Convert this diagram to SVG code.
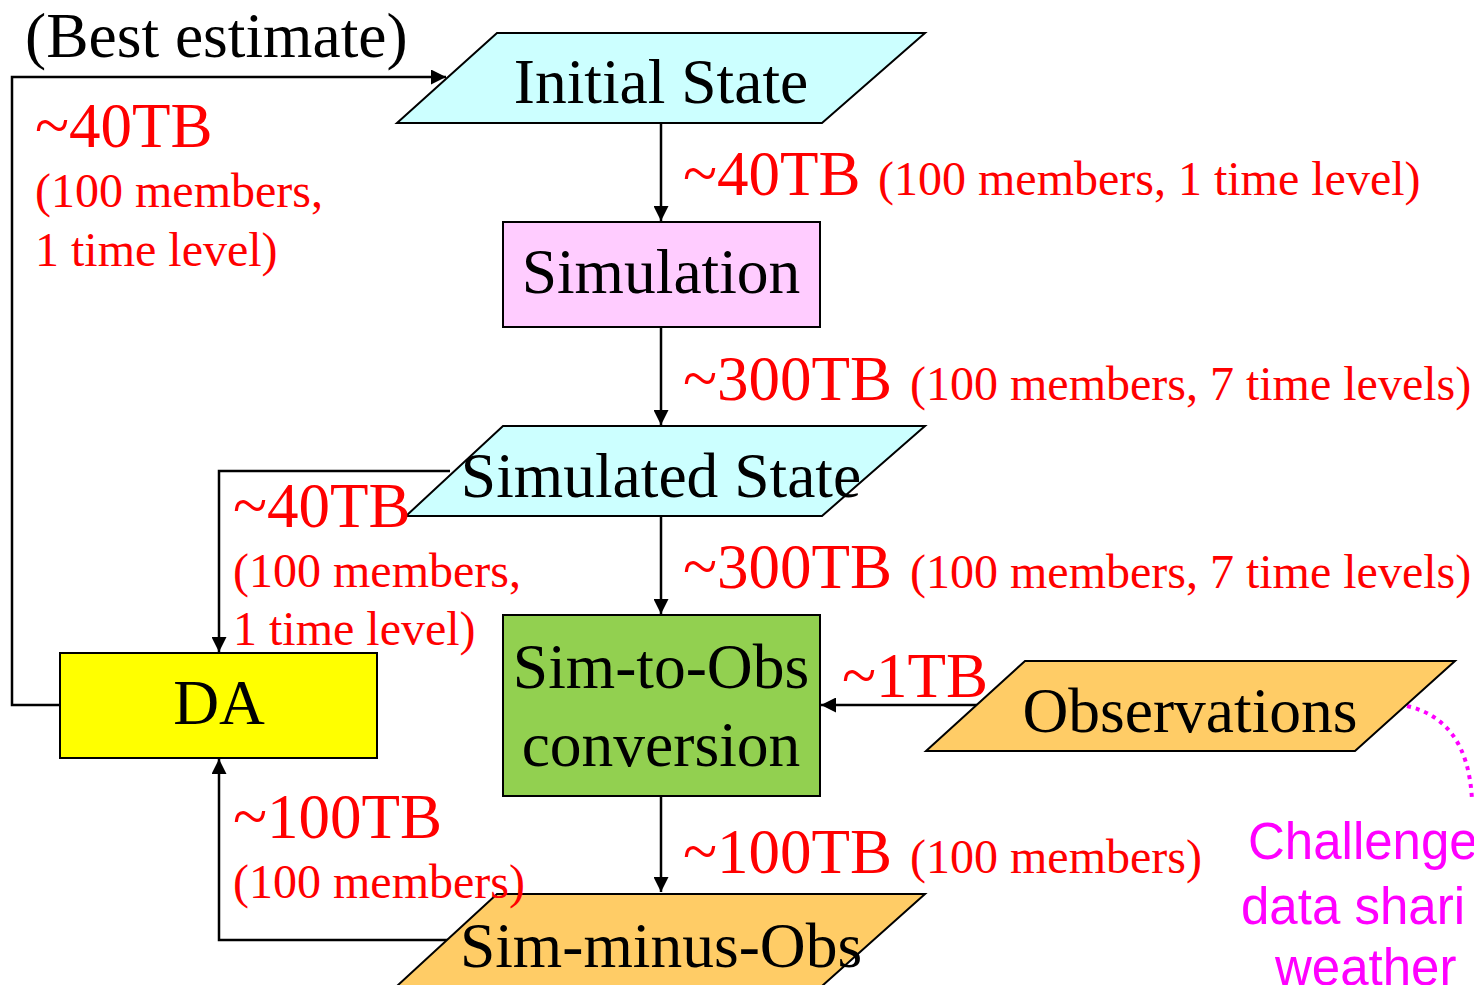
<svg xmlns="http://www.w3.org/2000/svg" width="1474" height="985" viewBox="0 0 1474 985">
<style>
.shape{stroke:#000;stroke-width:2}
.lbl{font-family:"Liberation Serif","Times New Roman",serif;font-size:63.5px;fill:#000}
.big{font-family:"Liberation Serif","Times New Roman",serif;font-size:63px;fill:#ff0000}
.sm{font-family:"Liberation Serif","Times New Roman",serif;font-size:48px;fill:#ff0000}
.mag{font-family:"Liberation Sans",Arial,sans-serif;font-size:51px;fill:#ff00ff}
.con{fill:none;stroke:#000;stroke-width:2.5}
</style>
<defs>
<marker id="ah" viewBox="0 0 10 10" refX="10" refY="5" markerWidth="6" markerHeight="6" markerUnits="strokeWidth" orient="auto">
<path d="M0,0 L10,5 L0,10 z" fill="#000"/>
</marker>
</defs>
<rect width="1474" height="985" fill="#fff"/>
<g id="connectors">
<polyline class="con" points="60,705 12,705 12,77 446,77" marker-end="url(#ah)"/>
<line class="con" x1="661" y1="123" x2="661" y2="221" marker-end="url(#ah)"/>
<line class="con" x1="661" y1="327" x2="661" y2="425" marker-end="url(#ah)"/>
<polyline class="con" points="450,471 219,471 219,652" marker-end="url(#ah)"/>
<line class="con" x1="661" y1="516" x2="661" y2="614" marker-end="url(#ah)"/>
<line class="con" x1="978" y1="705" x2="821" y2="705" marker-end="url(#ah)"/>
<line class="con" x1="661" y1="796" x2="661" y2="892" marker-end="url(#ah)"/>
<polyline class="con" points="450,940 219,940 219,759" marker-end="url(#ah)"/>
<path d="M1407,706 Q1468,720 1472,800" fill="none" stroke="#ff00ff" stroke-width="4" stroke-dasharray="4,5"/>
</g>
<g id="initial-state">
<polygon class="shape" points="497,33 925,33 822,123 397,123" fill="#ccffff"/>
<text class="lbl" x="661" y="103" text-anchor="middle">Initial State</text>
</g>
<g id="simulation">
<rect class="shape" x="503" y="222" width="317" height="105" fill="#ffccff"/>
<text class="lbl" x="661" y="293" text-anchor="middle">Simulation</text>
</g>
<g id="simulated-state">
<polygon class="shape" points="503,426 925,426 822,516 406,516" fill="#ccffff"/>
<text class="lbl" x="661" y="497" text-anchor="middle">Simulated State</text>
</g>
<g id="sim-to-obs">
<rect class="shape" x="503" y="615" width="317" height="181" fill="#92d050"/>
<text class="lbl" x="661" y="688" text-anchor="middle">Sim-to-Obs</text>
<text class="lbl" x="661" y="766" text-anchor="middle">conversion</text>
</g>
<g id="observations">
<polygon class="shape" points="1025,661 1455,661 1355,751 926,751" fill="#ffcc66"/>
<text class="lbl" x="1190" y="732" text-anchor="middle">Observations</text>
</g>
<g id="da">
<rect class="shape" x="60" y="653" width="317" height="105" fill="#ffff00"/>
<text class="lbl" x="219" y="724" text-anchor="middle">DA</text>
</g>
<g id="sim-minus-obs">
<polygon class="shape" points="497,894 925,894 822,986 397,986" fill="#ffcc66"/>
<text class="lbl" x="661" y="967" text-anchor="middle">Sim-minus-Obs</text>
</g>
<g id="labels">
<text class="lbl" x="25" y="57">(Best estimate)</text>
<text class="big" x="35" y="147">~40TB</text>
<text class="sm" x="35" y="207">(100 members,</text>
<text class="sm" x="35" y="266">1 time level)</text>
<text class="big" x="683" y="195">~40TB</text>
<text class="sm" x="878" y="195">(100 members, 1 time level)</text>
<text class="big" x="683" y="400">~300TB</text>
<text class="sm" x="910" y="400">(100 members, 7 time levels)</text>
<text class="big" x="233" y="527">~40TB</text>
<text class="sm" x="233" y="587">(100 members,</text>
<text class="sm" x="233" y="645">1 time level)</text>
<text class="big" x="683" y="588">~300TB</text>
<text class="sm" x="910" y="588">(100 members, 7 time levels)</text>
<text class="big" x="842" y="697">~1TB</text>
<text class="big" x="233" y="838">~100TB</text>
<text class="sm" x="233" y="898">(100 members)</text>
<text class="big" x="683" y="873">~100TB</text>
<text class="sm" x="910" y="873">(100 members)</text>
<text class="mag" x="1248" y="859">Challenge</text>
<text class="mag" x="1241" y="924">data shari</text>
<text class="mag" x="1275" y="985">weather</text>
</g>
</svg>
